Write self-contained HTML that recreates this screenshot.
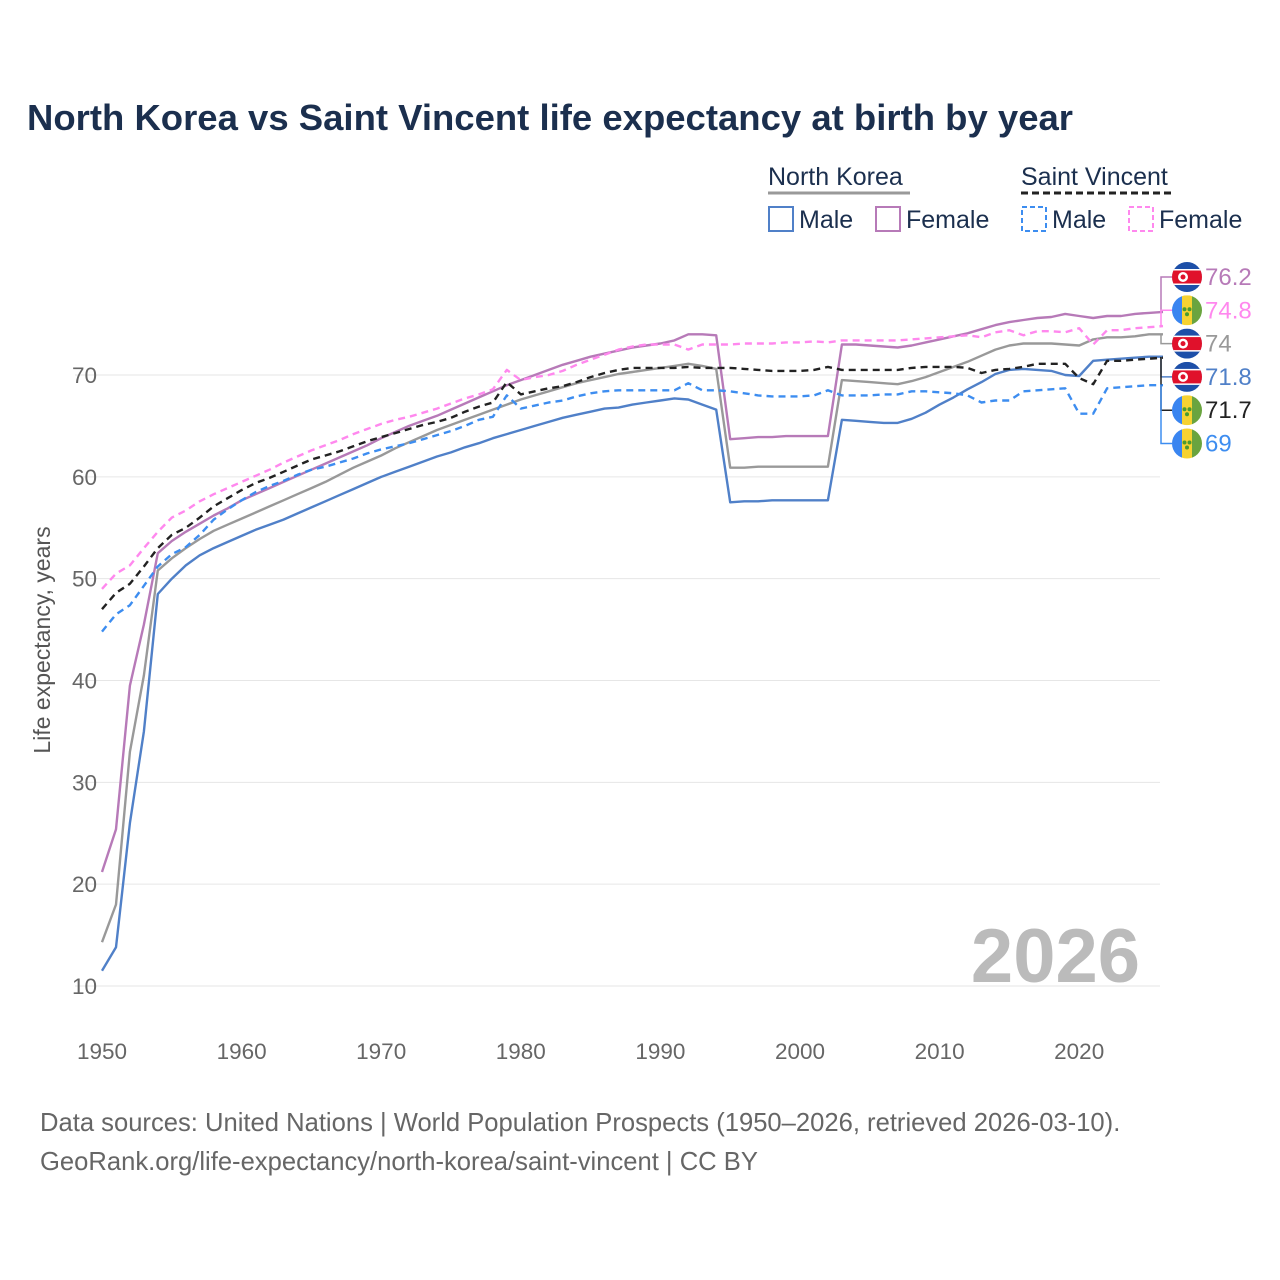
<!DOCTYPE html>
<html><head><meta charset="utf-8">
<style>
body{margin:0;background:#fff;}
svg{display:block;font-family:"Liberation Sans",sans-serif;}
</style></head>
<body>
<svg id="chart" width="1280" height="1280" viewBox="0 0 1280 1280">
<text x="27" y="130" font-size="36.5" font-weight="bold" fill="#1b2f4e">North Korea vs Saint Vincent life expectancy at birth by year</text>
<g font-size="25" fill="#1b2f4e">
<text x="768" y="185">North Korea</text>
<line x1="768" y1="193" x2="910" y2="193" stroke="#999" stroke-width="3"/>
<text x="1021" y="185">Saint Vincent</text>
<line x1="1021" y1="193" x2="1172" y2="193" stroke="#222" stroke-width="3" stroke-dasharray="7,4"/>
<rect x="769" y="207" width="24" height="24" fill="none" stroke="#5080c8" stroke-width="2"/>
<text x="799" y="228">Male</text>
<rect x="876" y="207" width="24" height="24" fill="none" stroke="#b77ab8" stroke-width="2"/>
<text x="906" y="228">Female</text>
<rect x="1022" y="207" width="24" height="24" fill="none" stroke="#3d8df0" stroke-width="2" stroke-dasharray="5,3"/>
<text x="1052" y="228">Male</text>
<rect x="1129" y="207" width="24" height="24" fill="none" stroke="#ff88ee" stroke-width="2" stroke-dasharray="5,3"/>
<text x="1159" y="228">Female</text>
</g>
<text transform="translate(50,640) rotate(-90)" text-anchor="middle" font-size="23" fill="#555">Life expectancy, years</text>
<text x="1140" y="982" text-anchor="end" font-size="76" font-weight="bold" fill="#bbb">2026</text>
<g id="grid"></g><g id="series"></g><g id="ends"></g>
<g font-size="25.6" fill="#666">
<text x="40" y="1131">Data sources: United Nations | World Population Prospects (1950–2026, retrieved 2026-03-10).</text>
<text x="40" y="1170">GeoRank.org/life-expectancy/north-korea/saint-vincent | CC BY</text>
</g>
</svg>
<script>
const years=[];for(let y=1950;y<=2026;y++)years.push(y);
const yTicks=[10,20,30,40,50,60,70];
const xTicks=[1950,1960,1970,1980,1990,2000,2010,2020];
const nkMale=[11.5,13.8,26,35,48.5,50,51.3,52.3,53,53.6,54.2,54.8,55.3,55.8,56.4,57,57.6,58.2,58.8,59.4,60,60.5,61,61.5,62,62.4,62.9,63.3,63.8,64.2,64.6,65,65.4,65.8,66.1,66.4,66.7,66.8,67.1,67.3,67.5,67.7,67.6,67.1,66.6,57.5,57.6,57.6,57.7,57.7,57.7,57.7,57.7,65.6,65.5,65.4,65.3,65.3,65.7,66.3,67.1,67.8,68.6,69.3,70.1,70.5,70.6,70.5,70.4,70,69.9,71.4,71.5,71.6,71.7,71.8,71.8];
const nkFemale=[21.2,25.4,39.5,45.5,52.5,53.7,54.6,55.4,56.2,56.9,57.7,58.3,58.9,59.5,60.1,60.7,61.3,61.9,62.5,63.1,63.8,64.4,65,65.5,66,66.6,67.2,67.8,68.4,69,69.5,70,70.5,71,71.4,71.8,72.1,72.4,72.7,72.9,73.1,73.4,74,74,73.9,63.7,63.8,63.9,63.9,64,64,64,64,73,73,72.9,72.8,72.7,72.9,73.2,73.5,73.8,74.1,74.5,74.9,75.2,75.4,75.6,75.7,76,75.8,75.6,75.8,75.8,76,76.1,76.2];
const nkTotal=[14.3,18,33,40.5,50.8,52,53,53.9,54.7,55.3,55.9,56.5,57.1,57.7,58.3,58.9,59.5,60.2,60.9,61.5,62.1,62.8,63.4,64,64.6,65.1,65.6,66.1,66.6,67.1,67.6,68,68.4,68.8,69.2,69.5,69.8,70.1,70.3,70.5,70.7,70.9,71.1,70.9,70.6,60.9,60.9,61,61,61,61,61,61,69.5,69.4,69.3,69.2,69.1,69.4,69.8,70.3,70.8,71.3,71.9,72.5,72.9,73.1,73.1,73.1,73,72.9,73.5,73.7,73.7,73.8,74,74];
const svMale=[44.8,46.5,47.4,49.3,51.2,52.4,53.1,54.3,55.8,56.8,57.7,58.5,59.1,59.6,60.2,60.7,61,61.4,61.8,62.3,62.7,63,63.3,63.7,64.1,64.5,65,65.6,65.9,68,66.7,67,67.3,67.5,67.9,68.2,68.4,68.5,68.5,68.5,68.5,68.5,69.2,68.5,68.5,68.4,68.2,68,67.9,67.9,67.9,68,68.5,68,68,68,68.1,68.1,68.4,68.4,68.3,68.2,68,67.3,67.5,67.5,68.4,68.5,68.6,68.7,66.2,66.2,68.7,68.8,68.9,69,69];
const svFemale=[49,50.5,51.3,53,54.6,56,56.7,57.6,58.3,58.9,59.5,60.1,60.7,61.4,62,62.6,63.1,63.6,64.2,64.7,65.2,65.6,65.9,66.3,66.7,67.2,67.7,68.1,68.6,70.5,69.5,69.8,70,70.4,71,71.5,72,72.5,72.8,73,73,73,72.5,73,73,73,73.1,73.1,73.1,73.2,73.2,73.3,73.2,73.4,73.4,73.4,73.4,73.4,73.5,73.6,73.7,73.8,73.9,73.7,74.2,74.4,73.9,74.3,74.3,74.2,74.6,73,74.4,74.4,74.6,74.7,74.8];
const svTotal=[47,48.6,49.5,51.2,53,54.3,55,56,57.1,57.9,58.7,59.4,59.9,60.5,61.1,61.7,62.1,62.5,63,63.5,63.9,64.3,64.7,65.1,65.4,65.8,66.4,66.9,67.3,69.3,68.1,68.4,68.7,68.9,69.3,69.8,70.2,70.5,70.7,70.7,70.7,70.7,70.8,70.7,70.7,70.7,70.6,70.5,70.4,70.4,70.4,70.5,70.8,70.5,70.5,70.5,70.5,70.5,70.7,70.8,70.8,70.8,70.7,70.2,70.5,70.6,70.8,71.1,71.1,71.1,69.7,69.1,71.4,71.4,71.5,71.6,71.7];
const endLabels=["76.2","74.8","74","71.8","71.7","69"];

const NS="http://www.w3.org/2000/svg";
const X=y=>102+(y-1950)*13.96;
const Y=v=>986-(v-10)*10.183;
function mk(tag,attrs,parent){const e=document.createElementNS(NS,tag);for(const k in attrs)e.setAttribute(k,attrs[k]);parent.appendChild(e);return e;}
const grid=document.getElementById('grid');
yTicks.forEach(t=>{
  const l=mk('line',{x1:75,x2:1160,y1:Y(t),y2:Y(t),stroke:'#e6e6e6','stroke-width':1},grid);
  
  
  const tx=mk('text',{x:97,y:Y(t)+8,'text-anchor':'end','font-size':22.5,fill:'#666'},grid);
  tx.textContent=t;
  
  
});
xTicks.forEach(t=>{
  const tx=mk('text',{x:X(t),y:1059,'text-anchor':'middle','font-size':22.5,fill:'#666'},grid);
  tx.textContent=t;
  
  
});
const series=[
  {d:nkTotal,c:'#999',dash:null,n:'nk-total'},
  {d:nkFemale,c:'#b77ab8',dash:null,n:'nk-female'},
  {d:nkMale,c:'#5080c8',dash:null,n:'nk-male'},
  {d:svMale,c:'#3d8df0',dash:'7,5',n:'sv-male'},
  {d:svFemale,c:'#ff88ee',dash:'7,5',n:'sv-female'},
  {d:svTotal,c:'#222',dash:'7,5',n:'sv-total'}
];
const sg=document.getElementById('series');
series.forEach(s=>{
  const pts=s.d.map((v,i)=>X(years[i]).toFixed(1)+','+Y(v).toFixed(1)).join(' ');
  const a={points:pts,fill:'none',stroke:s.c,'stroke-width':2.4,'stroke-linejoin':'round'};
  if(s.dash)a['stroke-dasharray']=s.dash;
  const p=mk('polyline',a,sg);
  
  
});
const ends=[
  {s:nkFemale,c:'#b77ab8',f:'nk'},{s:svFemale,c:'#ff88ee',f:'sv'},{s:nkTotal,c:'#999',f:'nk'},
  {s:nkMale,c:'#5080c8',f:'nk'},{s:svTotal,c:'#222',f:'sv'},{s:svMale,c:'#3d8df0',f:'sv'}
];
const eg=document.getElementById('ends');
ends.forEach((e,i)=>{
  const cy=277+i*33.3, cx=1187;
  const yv=Y(e.s[e.s.length-1]);
  const br=mk('polyline',{points:`1160,${yv} 1161,${yv} 1161,${cy} 1172,${cy}`,fill:'none',stroke:e.c,'stroke-width':1.5},eg);
  
  
  const g=mk('g',{},eg);
  
  
  const id='c'+i;
  const cp=mk('clipPath',{id:id},g);mk('circle',{cx:cx,cy:cy,r:15},cp);
  const gg=mk('g',{'clip-path':`url(#${id})`},g);
  if(e.f==='nk'){
    mk('rect',{x:cx-15,y:cy-15,width:30,height:30,fill:'#1d4fa8'},gg);
    mk('rect',{x:cx-15,y:cy-8,width:30,height:16,fill:'#fff'},gg);
    mk('rect',{x:cx-15,y:cy-6.5,width:30,height:13,fill:'#e0112b'},gg);
    mk('circle',{cx:cx-4,cy:cy,r:5,fill:'#fff'},gg);
    mk('circle',{cx:cx-4,cy:cy,r:2.5,fill:'#e0112b'},gg);
  }else{
    mk('rect',{x:cx-15,y:cy-15,width:10,height:30,fill:'#3a85f0'},gg);
    mk('rect',{x:cx-5,y:cy-15,width:10,height:30,fill:'#f6d231'},gg);
    mk('rect',{x:cx+5,y:cy-15,width:10,height:30,fill:'#6aa43f'},gg);
    mk('circle',{cx:cx-2.5,cy:cy-1,r:2,fill:'#4a9a30'},gg);
    mk('circle',{cx:cx+2.5,cy:cy-1,r:2,fill:'#4a9a30'},gg);
    mk('circle',{cx:cx,cy:cy+4,r:2,fill:'#4a9a30'},gg);
  }
  const t=mk('text',{x:1205,y:cy+8,'font-size':24,fill:e.c},eg);
  t.textContent=endLabels[i];
  
  
});
</script>
</body></html>
